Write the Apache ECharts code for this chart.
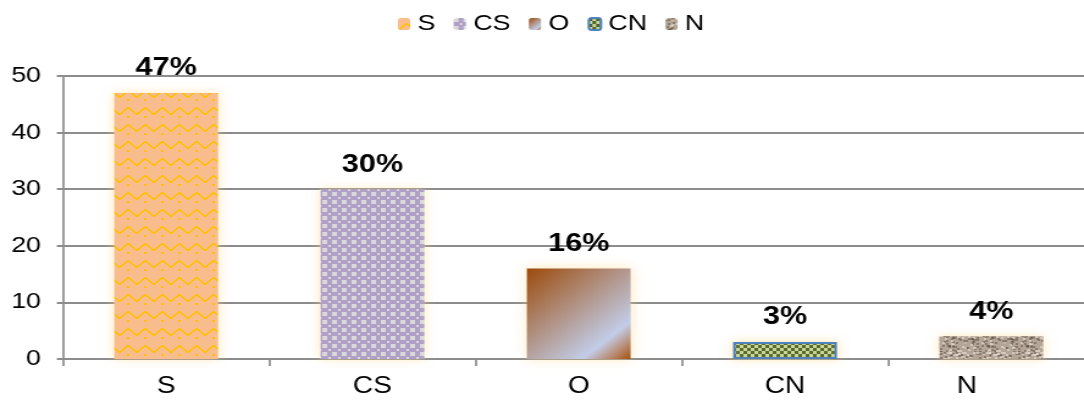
<!DOCTYPE html>
<html>
<head>
<meta charset="utf-8">
<script src="https://cdn.jsdelivr.net/npm/echarts@6/dist/echarts.min.js"></script>
<style>
  html, body { margin: 0; padding: 0; background: #fff; overflow: hidden; }
  /* the source picture is stretched sideways, so draw narrower and widen */
  #chart { width: 888px; height: 401px; transform: scaleX(1.2207); transform-origin: 0 0; }
</style>
</head>
<body>
<div id="chart"></div>
<script>
// categories and values (percent)
const categories = ['S', 'CS', 'O', 'CN', 'N']
const values = [47, 30, 16, 3, 4]
const yTicks = { min: 0, max: 50, interval: 10 }

// small tile patterns for the bar fills
function makeTile(w, h, draw) {
  const c = document.createElement('canvas')
  c.width = w
  c.height = h
  draw(c.getContext('2d'), w, h)
  return c
}

// S: peach with yellow wavy lines
const tileS = makeTile(14, 17, (g, w, h) => {
  g.fillStyle = '#f9bd8d'
  g.fillRect(0, 0, w, h)
  g.fillStyle = '#ffc000'
  const pts = [[0, 11], [1, 10], [2, 9], [3, 8], [4, 7], [5, 6], [6, 5], [7, 5], [8, 6], [9, 7], [10, 8], [11, 9], [12, 10], [13, 11]]
  pts.forEach(p => g.fillRect(p[0], p[1], 1, 2))
  g.fillRect(6, 14, 2, 2)
})

// CS: purple with grey squares
const tileCS = makeTile(8, 8, (g, w, h) => {
  g.fillStyle = '#b09fc6'
  g.fillRect(0, 0, w, h)
  g.fillStyle = '#d9d9d9'
  g.fillRect(0, 0, 4, 4)
  g.fillRect(5, 5, 2, 2)
})

// CN: olive / light green checkerboard
const tileCN = makeTile(6, 6, (g, w, h) => {
  g.fillStyle = '#c3d69b'
  g.fillRect(0, 0, w, h)
  g.fillStyle = '#4f6228'
  g.fillRect(0, 0, 3, 3)
  g.fillRect(3, 3, 3, 3)
})

// N: granite-like speckle texture
const tileN = makeTile(32, 32, (g, w, h) => {
  g.fillStyle = '#b3a597'
  g.fillRect(0, 0, w, h)
  let s = 7
  const rnd = () => { s = (s * 9301 + 49297) % 233280; return s / 233280 }
  for (let i = 0; i < 160; i++) {
    g.fillStyle = rnd() < 0.5 ? 'rgba(95,80,66,0.5)' : 'rgba(232,225,216,0.6)'
    g.fillRect(Math.floor(rnd() * w), Math.floor(rnd() * h), 2, 2)
  }
})

const fills = [
  { image: tileS, repeat: 'repeat' },
  { image: tileCS, repeat: 'repeat' },
  new echarts.graphic.LinearGradient(0, 0, 1, 1, [
    { offset: 0, color: '#9c4a0a' },
    { offset: 0.78, color: '#c2cde8' },
    { offset: 0.9, color: '#b98a70' },
    { offset: 1, color: '#a4500f' }
  ]),
  { image: tileCN, repeat: 'repeat' },
  { image: tileN, repeat: 'repeat' }
]

const chart = echarts.init(document.getElementById('chart'))

const series = categories.map((name, i) => ({
  name: name,
  type: 'bar',
  stack: 'all',
  barWidth: 85,
  data: values.map((v, j) => (j === i ? v : '-')),
  itemStyle: {
    color: fills[i],
    borderColor: i === 3 ? '#4f81bd' : 'transparent',
    borderWidth: i === 3 ? 2 : 0,
    shadowBlur: 10,
    shadowColor: 'rgba(255, 214, 130, 0.55)'
  },
  label: {
    show: true,
    position: 'top',
    distance: 12,
    formatter: '{c}%',
    color: '#000',
    fontSize: 25,
    fontWeight: 'bold'
  },
  emphasis: { disabled: true }
}))

const option = {
  backgroundColor: '#fff',
  animation: false,
  textStyle: { fontFamily: 'Liberation Sans' },
  legend: {
    top: 8,
    left: 321,
    itemWidth: 10,
    itemHeight: 12,
    itemGap: 15,
    textStyle: { fontSize: 22, color: '#000', padding: [0, 0, 0, 1] },
    data: categories
  },
  // plot runs past the right edge of the picture
  grid: {
    left: 51.6, width: 845, top: 76, bottom: 42,
    containLabel: false, outerBoundsMode: 'none'
  },
  xAxis: {
    type: 'category',
    data: categories,
    axisLine: { lineStyle: { color: '#8c8c8c', width: 2 } },
    axisTick: { show: true, length: 7, lineStyle: { color: '#8c8c8c', width: 1.7 } },
    axisLabel: {
      fontSize: 23,
      color: '#000',
      margin: 16,
      // last label sits a little left of its bar in the source
      formatter: (v, i) => (i === categories.length - 1 ? '{last|' + v + '}' : v),
      rich: { last: { fontSize: 23, color: '#000', padding: [0, 40, 0, 0] } }
    }
  },
  yAxis: {
    type: 'value',
    min: yTicks.min,
    max: yTicks.max,
    interval: yTicks.interval,
    axisLine: { show: true, lineStyle: { color: '#8c8c8c', width: 1.7 } },
    axisTick: { show: true, length: 5, lineStyle: { color: '#8c8c8c', width: 2 } },
    axisLabel: { fontSize: 22, color: '#000', margin: 18 },
    splitLine: { lineStyle: { color: '#8c8c8c', width: 2 } }
  },
  series: series
}

chart.setOption(option)
</script>
</body>
</html>
